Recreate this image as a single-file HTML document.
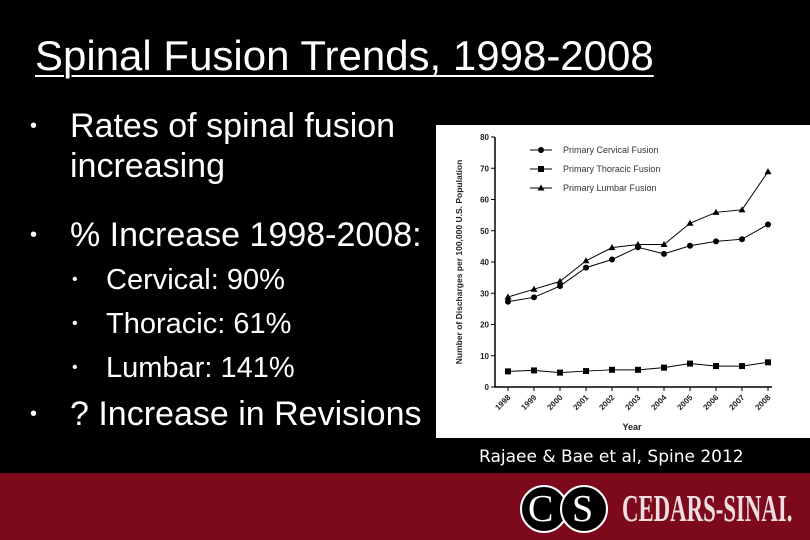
<!DOCTYPE html>
<html><head><meta charset="utf-8"><style>
body{margin:0;width:810px;height:540px;background:#000;overflow:hidden;font-family:"Liberation Sans",sans-serif;color:#fff;position:relative}
.t{position:absolute;white-space:nowrap}
.b{position:absolute;left:0;font-size:20px}
</style></head><body>
<div class="t" style="left:35px;top:32px;font-size:42px;text-decoration:underline;text-decoration-thickness:2px;text-underline-offset:5px">Spinal Fusion Trends, 1998-2008</div>
<div class="t" style="left:30px;top:106px;font-size:34px;line-height:40px;white-space:normal;width:420px"><span class="b" style="top:0">•</span><div style="margin-left:40px">Rates of spinal fusion<br>increasing</div></div>
<div class="t" style="left:30px;top:215px;font-size:34px;line-height:40px"><span class="b" style="top:0">•</span><span style="margin-left:40px">% Increase 1998-2008:</span></div>
<div class="t" style="left:72px;top:262px;font-size:29px;line-height:36px"><span class="b" style="top:0;font-size:16px">•</span><span style="margin-left:34px">Cervical: 90%</span></div>
<div class="t" style="left:72px;top:306px;font-size:29px;line-height:36px"><span class="b" style="top:0;font-size:16px">•</span><span style="margin-left:34px">Thoracic: 61%</span></div>
<div class="t" style="left:72px;top:350px;font-size:29px;line-height:36px"><span class="b" style="top:0;font-size:16px">•</span><span style="margin-left:34px">Lumbar: 141%</span></div>
<div class="t" style="left:30px;top:394px;font-size:34px;line-height:40px"><span class="b" style="top:0">•</span><span style="margin-left:40px">? Increase in Revisions</span></div>
<div class="t" style="left:479px;top:447px;font-size:17px;font-family:'DejaVu Sans',sans-serif">Rajaee &amp; Bae et al, Spine 2012</div>
<div style="position:absolute;left:0;top:473px;width:810px;height:67px;background:#7c0a1c"></div>
<div style="position:absolute;left:520px;top:485px;width:90px;height:46px">
<div style="position:absolute;left:0;top:0;width:44px;height:44px;border-radius:50%;border:2px solid #fff;background:#000"></div>
<div style="position:absolute;left:40px;top:0;width:44px;height:44px;border-radius:50%;border:2px solid #fff;background:#000"></div>
<div class="t" style="left:8px;top:2px;font-family:'Liberation Serif',serif;font-size:38px">C</div>
<div class="t" style="left:52px;top:2px;font-family:'Liberation Serif',serif;font-size:38px">S</div></div>
<div class="t" style="left:622px;top:487px;font-family:'Liberation Serif',serif;font-size:38px;font-weight:bold;color:#f0dde0;transform:scaleX(0.6);transform-origin:left">CEDARS-SINAI.</div>
<svg id="ch" style="position:absolute;left:436px;top:125px" width="374" height="313" viewBox="436 125 374 313"></svg>
<script>
const years=["1998","1999","2000","2001","2002","2003","2004","2005","2006","2007","2008"];
const cervical=[27.3,28.7,32.3,38.2,40.8,44.7,42.6,45.2,46.6,47.3,52.0];
const thoracic=[5.0,5.3,4.6,5.1,5.5,5.5,6.2,7.5,6.7,6.7,7.9];
const lumbar=[28.8,31.3,33.8,40.4,44.6,45.6,45.6,52.4,55.9,56.7,68.9];
const yTicks=[0,10,20,30,40,50,60,70,80];
const NS="http://www.w3.org/2000/svg",svg=document.getElementById('ch');
const X=i=>508+i*26, Y=v=>387-v*3.125;
function mk(t,a,p){const e=document.createElementNS(NS,t);for(const k in a)e.setAttribute(k,a[k]);(p||svg).appendChild(e);return e;}
mk('rect',{x:436,y:125,width:374,height:313,fill:'#fff'});
let ax=mk('path',{d:`M495 ${Y(80)}V387H${X(10)+4}`,stroke:'#000','stroke-width':1.5,fill:'none'});


yTicks.forEach(v=>{mk('line',{x1:491,x2:495,y1:Y(v),y2:Y(v),stroke:'#000'});
const t=mk('text',{x:489,y:Y(v)+3,'text-anchor':'end','font-size':8,'font-weight':'bold',fill:'#222'});t.textContent=v;

});
years.forEach((y,i)=>{mk('line',{x1:X(i),x2:X(i),y1:387,y2:391,stroke:'#000'});
const t=mk('text',{x:X(i)+3,y:398,'text-anchor':'end','font-size':8,'font-weight':'bold',fill:'#222',transform:`rotate(-45 ${X(i)+3} 398)`});t.textContent=y;

});
let yt=mk('text',{x:0,y:0,'font-size':8.5,'font-weight':'bold','text-anchor':'middle',fill:'#222',transform:`translate(462 262) rotate(-90)`});yt.textContent='Number of Discharges per 100,000 U.S. Population';


let xt=mk('text',{x:632,y:430,'font-size':9,'font-weight':'bold','text-anchor':'middle',fill:'#222'});xt.textContent='Year';


function marker(kind,x,y,g){if(kind==='c')mk('circle',{cx:x,cy:y,r:3,fill:'#000'},g);
else if(kind==='s')mk('rect',{x:x-3,y:y-3,width:6,height:6,fill:'#000'},g);
else mk('path',{d:`M${x} ${y-3.5}L${x+3.5} ${y+2.5}H${x-3.5}Z`,fill:'#000'},g);}
[[cervical,'c','series-cervical'],[thoracic,'s','series-thoracic'],[lumbar,'t','series-lumbar']].forEach(([d,k,n])=>{
const g=mk('g',{});


mk('polyline',{points:d.map((v,i)=>X(i)+','+Y(v)).join(' '),fill:'none',stroke:'#000','stroke-width':1},g);
d.forEach((v,i)=>marker(k,X(i),Y(v),g));});
[['c','Primary Cervical Fusion',150],['s','Primary Thoracic Fusion',169],['t','Primary Lumbar Fusion',188]].forEach(([k,l,y])=>{
const g=mk('g',{});


mk('line',{x1:530,x2:552,y1:y,y2:y,stroke:'#000'},g);marker(k,541,y,g);
const t=mk('text',{x:563,y:y+3,'font-size':9,fill:'#333'},g);t.textContent=l;});
</script>
</body></html>
